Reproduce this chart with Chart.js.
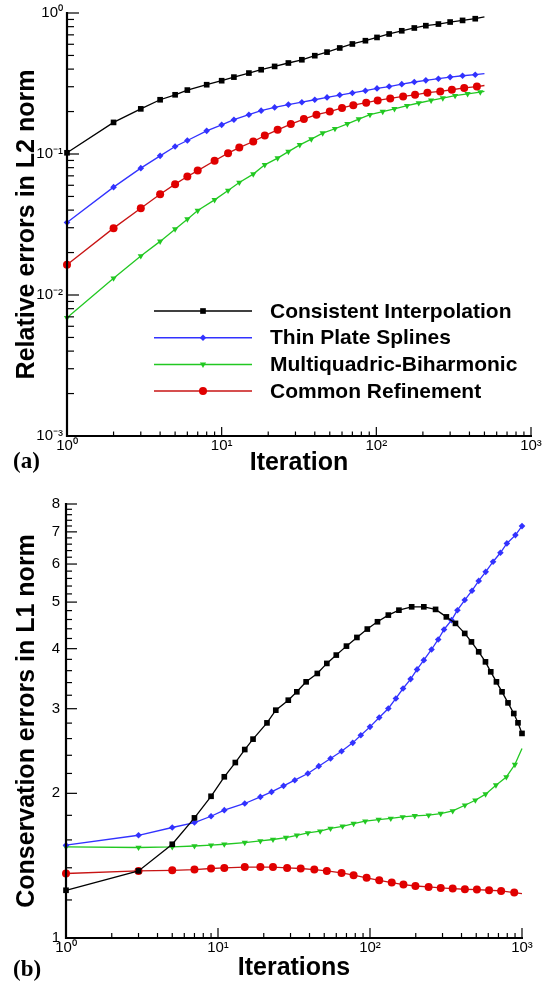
<!DOCTYPE html>
<html><head><meta charset="utf-8">
<script src="https://cdn.jsdelivr.net/npm/chart.js@4.4.1/dist/chart.umd.min.js"></script>
<style>
html,body{margin:0;padding:0;background:#fff;}
#wrap{position:relative;width:542px;height:983px;overflow:hidden;background:#fff;}
canvas{position:absolute;left:0;}
#ca{top:0;}
#cb{top:482px;}
.tag{position:absolute;font-family:'Liberation Serif','Times New Roman',serif;font-weight:bold;font-size:23px;line-height:23px;color:#000;}
</style></head><body>
<div id="wrap">
<canvas id="ca" width="542" height="482"></canvas>
<canvas id="cb" width="542" height="501"></canvas>
<div class="tag" style="left:13px;top:449px">(a)</div>
<div class="tag" style="left:13px;top:957px">(b)</div>
</div>
<script>
// ---------- DATA ----------
const seriesNames = ['Consistent Interpolation','Thin Plate Splines','Multiquadric-Biharmonic','Common Refinement'];

// Panel (a): relative errors in L2 norm vs iteration
const aItersCI  = [1,2,3,4,5,6,8,10,12,15,18,22,27,33,40,48,58,70,85,101,121,146,176,209,252,300,361,436,500];
const aCI       = [0.102,0.1675,0.209,0.2425,0.263,0.284,0.31,0.331,0.351,0.375,0.396,0.418,0.442,0.466,0.498,0.528,0.565,0.603,0.636,0.671,0.71,0.748,0.783,0.813,0.835,0.863,0.886,0.911,0.937];
const aItersTPS = [1,2,3,4,5,6,8,10,12,15,18,22,27,33,40,48,58,70,85,101,121,146,176,209,252,300,361,436,500];
const aTPS      = [0.0327,0.0582,0.0794,0.097,0.113,0.1247,0.146,0.161,0.175,0.19,0.203,0.214,0.224,0.233,0.2425,0.252,0.262,0.271,0.281,0.292,0.301,0.313,0.324,0.333,0.342,0.351,0.359,0.365,0.371];
const aItersMB  = [1,2,3,4,5,6,7,9,11,13,16,19,23,27,32,38,45,54,65,77,91,110,131,158,188,226,269,323,389,470,500];
const aMB       = [0.0069,0.01315,0.0189,0.024,0.0293,0.0345,0.0397,0.0473,0.0551,0.0628,0.072,0.0838,0.0935,0.104,0.116,0.1276,0.1406,0.151,0.1638,0.177,0.19,0.2,0.209,0.22,0.23,0.24,0.249,0.259,0.267,0.275,0.278];
const aItersCR  = [1,2,3,4,5,6,7,9,11,13,16,19,23,28,34,41,50,60,71,86,102,123,149,178,214,259,308,370,447,500];
const aCR       = [0.0164,0.0298,0.0413,0.0519,0.0611,0.0692,0.0763,0.0895,0.1014,0.111,0.1227,0.135,0.1485,0.163,0.177,0.19,0.2,0.212,0.222,0.231,0.24,0.248,0.256,0.263,0.272,0.278,0.2855,0.294,0.301,0.306];

// Panel (b): conservation errors in L1 norm vs iterations
const bItersCI  = [1,3,5,7,9,11,13,15,17,21,24,29,33,38,45,52,60,70,82,96,112,132,155,188,226,270,318,365,420,465,519,575,623,679,739,809,883,941,1000];
const bCI       = [1.257,1.379,1.567,1.778,1.972,2.165,2.318,2.467,2.593,2.803,2.979,3.125,3.253,3.412,3.552,3.727,3.879,4.049,4.221,4.394,4.55,4.698,4.81,4.888,4.888,4.828,4.658,4.515,4.303,4.132,3.94,3.755,3.58,3.412,3.253,3.085,2.932,2.804,2.665];
const bItersTPS = [1,3,5,7,9,11,15,19,22.5,27,32,39,46,55,65,77,87,100,115,132,148,165,185,204,226,254,281,307,344,376,420,469,519,577,645,721,795,905,1000];
const bTPS      = [1.56,1.636,1.698,1.739,1.792,1.845,1.905,1.966,2.014,2.073,2.13,2.199,2.278,2.363,2.447,2.547,2.642,2.75,2.877,3.003,3.151,3.305,3.457,3.622,3.786,3.984,4.18,4.385,4.586,4.81,5.05,5.28,5.535,5.78,6.067,6.333,6.623,6.892,7.196];
const bItersMB  = [1,3,5,7,9,11,15,19,23,28,33,39,47,55,66,78,93,114,137,164,197,243,292,350,421,493,576,674,789,898,1000];
const bMB       = [1.547,1.543,1.547,1.554,1.56,1.567,1.58,1.592,1.603,1.618,1.636,1.654,1.668,1.69,1.708,1.73,1.75,1.764,1.773,1.786,1.795,1.801,1.815,1.838,1.889,1.935,1.992,2.08,2.163,2.296,2.48];
const bItersCR  = [1,3,5,7,9,11,15,19,23,28.5,35,43,52,65,78,95,115,139,166,199,243,292,350,421,505,607,729,889,1000];
const bCR       = [1.362,1.379,1.383,1.388,1.395,1.399,1.405,1.405,1.405,1.399,1.395,1.388,1.379,1.366,1.351,1.334,1.318,1.304,1.292,1.283,1.277,1.271,1.267,1.263,1.261,1.257,1.253,1.243,1.237];

// Tick labels
const xTickValues = [1,10,100,1000];
const xTickLabels = ['10\u2070','10\u00B9','10\u00B2','10\u00B3'];
const aYTickValues = [0.001,0.01,0.1,1];
const aYTickLabels = ['10\u207B\u00B3','10\u207B\u00B2','10\u207B\u00B9','10\u2070'];
const bYTickValues = [1,2,3,4,5,6,7,8];
const bYTickLabels = ['1','2','3','4','5','6','7','8'];

// ---------- STYLE ----------
const FONT = "'Liberation Sans', Arial, Helvetica, sans-serif";
const C_BLACK = '#000000', C_BLUE = '#3232ff', C_GREEN = '#22c822', C_RED = '#e00000', C_REDLINE = '#c81414';

function mkDs(label, xs, ys, color, lineColor, style, radius, rot, hideLast) {
  return {
    label,
    data: xs.map((x, i) => ({x, y: ys[i]})),
    borderColor: lineColor,
    backgroundColor: color,
    borderWidth: 1.3,
    pointStyle: style,
    pointRotation: rot,
    pointBackgroundColor: color,
    pointBorderColor: color,
    pointBorderWidth: 0,
    pointRadius: ctx => (hideLast && ctx.dataIndex === xs.length - 1) ? 0 : radius,
    pointHoverRadius: radius,
    tension: 0,
    clip: 14
  };
}

const axisPlugin = {
  id: 'axisTicks',
  afterDatasetsDraw(chart, args, o) {
    const {ctx, chartArea: a} = chart;
    const xs = chart.scales.x, ys = chart.scales.y;
    ctx.save();
    ctx.strokeStyle = '#000';
    ctx.lineWidth = 1.2;
    const seg = (x1, y1, x2, y2) => { ctx.beginPath(); ctx.moveTo(x1, y1); ctx.lineTo(x2, y2); ctx.stroke(); };
    o.xMajor.forEach(v => { const p = xs.getPixelForValue(v); seg(p, a.bottom, p, a.bottom - o.xMajLen); });
    o.xMinor.forEach(v => { const p = xs.getPixelForValue(v); seg(p, a.bottom, p, a.bottom - o.xMinLen); });
    o.yMajor.forEach(v => { const p = ys.getPixelForValue(v); seg(a.left, p, a.left + o.yMajLen, p); });
    o.yMinor.forEach(v => { const p = ys.getPixelForValue(v); seg(a.left, p, a.left + o.yMinLen, p); });
    ctx.lineWidth = 2.2;
    ctx.beginPath();
    ctx.moveTo(a.left, a.top - 1);
    ctx.lineTo(a.left, a.bottom);
    ctx.lineTo(a.right + 1, a.bottom);
    ctx.stroke();
    ctx.restore();
  }
};

const legendPlugin = {
  id: 'innerLegend',
  afterDraw(chart, args, o) {
    if (!o.show) return;
    const {ctx} = chart;
    ctx.save();
    o.rows.forEach((dsIndex, r) => {
      const d = chart.data.datasets[dsIndex];
      const y = o.y0 + r * o.dy;
      ctx.strokeStyle = d.borderColor;
      ctx.lineWidth = 1.5;
      ctx.beginPath(); ctx.moveTo(o.x0, y); ctx.lineTo(o.x1, y); ctx.stroke();
      ctx.fillStyle = d.pointBackgroundColor;
      ctx.strokeStyle = d.pointBackgroundColor;
      const rad = typeof d.pointRadius === 'function' ? d.pointRadius({dataIndex: 0}) : d.pointRadius;
      Chart.helpers.drawPoint(ctx, {pointStyle: d.pointStyle, rotation: d.pointRotation, radius: rad, borderWidth: 0}, (o.x0 + o.x1) / 2, y);
      ctx.fillStyle = '#000';
      ctx.font = 'bold ' + o.size + 'px ' + FONT;
      ctx.textBaseline = 'middle';
      ctx.textAlign = 'left';
      ctx.fillText(d.label, o.tx, y + 1);
    });
    ctx.restore();
  }
};

function logMinors(decades) {
  const out = [];
  decades.forEach(d => { for (let k = 2; k <= 9; k++) out.push(d * k); });
  return out;
}
function linMinors(lo, hi, step) {
  const out = [];
  for (let v = lo; v < hi - 1e-9; v += step) {
    const r = Math.round(v * 10) / 10;
    if (Math.abs(r - Math.round(r)) > 1e-6) out.push(r);
  }
  return out;
}

function makeChart(id, cfg) {
  return new Chart(document.getElementById(id), {
    type: 'line',
    data: {datasets: cfg.datasets},
    plugins: [axisPlugin, legendPlugin],
    options: {
      responsive: false,
      animation: false,
      devicePixelRatio: 1,
      layout: {padding: cfg.padding},
      plugins: {
        legend: {display: false},
        tooltip: {enabled: false},
        axisTicks: cfg.ticks,
        innerLegend: cfg.legend
      },
      scales: {
        x: {
          type: 'logarithmic', min: 1, max: 1000,
          afterBuildTicks: s => { s.ticks = xTickValues.map(v => ({value: v})); },
          afterFit: s => { s.height = cfg.xHeight; s.paddingLeft = 0; s.paddingRight = 0; },
          ticks: {autoSkip: false, maxRotation: 0, minRotation: 0, padding: 1, color: '#000',
                  font: {family: FONT, size: cfg.tickSize},
                  callback: (v, i) => xTickLabels[i]},
          grid: {display: false, drawTicks: false},
          border: {display: false},
          title: {display: true, text: cfg.xTitle, color: '#000',
                  font: {family: FONT, size: 25, weight: 'bold', lineHeight: 1},
                  padding: {top: 0, bottom: cfg.xTitlePad}}
        },
        y: {
          type: 'logarithmic', min: cfg.yMin, max: cfg.yMax,
          afterBuildTicks: s => { s.ticks = cfg.yTicks.map(v => ({value: v})); },
          afterFit: s => { s.width = cfg.yWidth; s.paddingTop = 0; s.paddingBottom = 0; },
          ticks: {autoSkip: false, padding: cfg.yTickPad, color: '#000',
                  font: {family: FONT, size: cfg.tickSize},
                  callback: (v, i) => cfg.yLabels[i]},
          grid: {display: false, drawTicks: false},
          border: {display: false},
          title: {display: true, text: cfg.yTitle, color: '#000',
                  font: {family: FONT, size: 25, weight: 'bold', lineHeight: 1},
                  padding: {top: 15, bottom: 0}}
        }
      }
    }
  });
}

const decades = [1, 10, 100];

makeChart('ca', {
  datasets: [
    mkDs(seriesNames[0], aItersCI, aCI, C_BLACK, C_BLACK, 'rect', 4, 0, true),
    mkDs(seriesNames[1], aItersTPS, aTPS, C_BLUE, C_BLUE, 'rectRot', 3.3, 0, true),
    mkDs(seriesNames[2], aItersMB, aMB, C_GREEN, C_GREEN, 'triangle', 3.6, 180, true),
    mkDs(seriesNames[3], aItersCR, aCR, C_RED, C_REDLINE, 'circle', 4, 0, true)
  ],
  padding: {top: 13, right: 11, left: 0, bottom: 0},
  xHeight: 46, yWidth: 67, xTitlePad: 6, yTickPad: 4, tickSize: 15,
  xTitle: 'Iteration', yTitle: 'Relative errors in L2 norm',
  yMin: 0.001, yMax: 1, yTicks: aYTickValues, yLabels: aYTickLabels,
  ticks: {xMajor: xTickValues, xMinor: logMinors(decades), xMajLen: 9, xMinLen: 4.5,
          yMajor: aYTickValues, yMinor: logMinors([0.001, 0.01, 0.1]), yMajLen: 12, yMinLen: 7},
  legend: {show: true, rows: [0, 1, 2, 3], x0: 154, x1: 252, tx: 270, y0: 311, dy: 26.7, size: 21}
});

makeChart('cb', {
  datasets: [
    mkDs(seriesNames[0], bItersCI, bCI, C_BLACK, C_BLACK, 'rect', 4, 0, false),
    mkDs(seriesNames[1], bItersTPS, bTPS, C_BLUE, C_BLUE, 'rectRot', 3.3, 0, false),
    mkDs(seriesNames[2], bItersMB, bMB, C_GREEN, C_GREEN, 'triangle', 3.6, 180, true),
    mkDs(seriesNames[3], bItersCR, bCR, C_RED, C_REDLINE, 'circle', 4, 0, true)
  ],
  padding: {top: 22, right: 20, left: 0, bottom: 0},
  xHeight: 45, yWidth: 66, xTitlePad: 2, yTickPad: 6, tickSize: 15,
  xTitle: 'Iterations', yTitle: 'Conservation errors in L1 norm',
  yMin: 1, yMax: 8, yTicks: bYTickValues, yLabels: bYTickLabels,
  ticks: {xMajor: xTickValues, xMinor: logMinors(decades), xMajLen: 10, xMinLen: 5,
          yMajor: bYTickValues, yMinor: linMinors(1, 8, 0.2), yMajLen: 11, yMinLen: 6},
  legend: {show: false}
});
</script>
</body></html>
